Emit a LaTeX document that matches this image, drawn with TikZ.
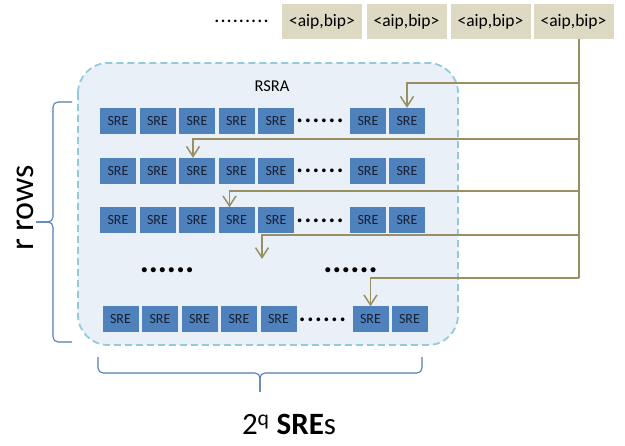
\documentclass[tikz,border=0pt]{standalone}
\usepackage{fontspec}
\setmainfont{Carlito}
\usepackage{tikz}
\usetikzlibrary{arrows.meta, positioning, calc}
\definecolor{srefill}{RGB}{79,129,189}
\definecolor{sretext}{RGB}{22,32,52}
\definecolor{pairtan}{RGB}{221,217,195}
\definecolor{wireolive}{RGB}{153,143,98}
\definecolor{rsrabg}{RGB}{234,240,247}
\definecolor{rsraedge}{RGB}{146,203,220}
\definecolor{bracesteel}{RGB}{84,125,180}
\newcommand{\dotrun}[2]{\foreach \k in {1,...,#1}{\ifnum\k>1\kern#2\fi.}}
\tikzset{
  sre/.style={fill=srefill, minimum width=36pt, minimum height=26pt, inner sep=0pt,
    font=\fontsize{14}{16}\selectfont, text=sretext},
  pair/.style={fill=pairtan, minimum width=80pt, minimum height=35pt, inner sep=0pt,
    font=\fontsize{17.5}{20}\selectfont},
  rowdots/.style={font=\bfseries\fontsize{25}{27}\selectfont, inner sep=0pt},
  gapdots/.style={font=\bfseries\fontsize{34}{36}\selectfont, inner sep=0pt},
  wire/.style={draw=wireolive, line width=1.5pt},
  feed/.style={wire, -{Straight Barb[length=10pt, width=13pt]}},
  curly/.style={draw=bracesteel, line width=1.1pt, rounded corners=5pt}
}

\begin{document}
\begin{tikzpicture}[x=1pt, y=-1pt]
    \useasboundingbox (0,0) rectangle (625,446);
    % RSRA frame
    \draw[fill=rsrabg, draw=rsraedge, line width=1.8pt, dash pattern=on 7pt off 4pt, rounded corners=30pt] (78,63) rectangle (458,345);
    \node[font=\fontsize{16.5}{18}\selectfont] (rsra) at (272,86) {RSRA};

    % input pairs
    \foreach \i/\x in {1/322,2/406.5,3/490.5,4/573.5}
        \node[pair] (aip\i) at (\x,21.5) {<aip,bip>};
    \node[font=\bfseries\fontsize{17}{18}\selectfont, inner sep=0pt] (pairdots) at (241.5,21) {\dotrun{9}{1.6pt}};

    % SRE rows
    \foreach \r/\y in {1/121,2/171,3/220.5}{
        \foreach \c/\x in {1/118,2/157.5,3/197,4/236.5,5/276,6/368,7/407}
            \node[sre] (s-\r-\c) at (\x,\y) {SRE};
        \node[rowdots] (d-\r) at (320,\y) {\dotrun{6}{1.4pt}};
    }
    \foreach \c/\x in {1/118,2/157.5,3/197,4/236.5,5/276,6/368,7/407}
        \node[sre] (s-4-\c) at (\x+2.5,319.5) {SRE};
    \node[rowdots] (d-4) at (322.5,319.5) {\dotrun{6}{1.4pt}};
    \node[gapdots] (gapl) at (167,270) {\dotrun{6}{0pt}};
    \node[gapdots] (gapr) at (350.5,270) {\dotrun{6}{0pt}};

    % feed lines
    \coordinate (tk) at (579,0);
    \coordinate (b1) at (579,83);
    \coordinate (b2) at (579,139);
    \coordinate (b3) at (579,191);
    \coordinate (b4) at (579,235);
    \coordinate (b5) at (579,278);
    \coordinate (drop) at (262,259);
    \draw[wire] (aip4.south -| tk) -- (b5);
    \draw[feed] (b1) -| (s-1-7.north);
    \draw[feed] (b2) -| ([xshift=-4pt]s-2-3.north);
    \draw[feed] (b3) -| ([xshift=-7pt]s-3-4.north);
    \draw[feed] (b4) -| (drop);
    \draw[feed] (b5) -| (s-4-6.north);

    % braces
    \draw[curly] (72,102) -- (53,102) -- (53,222) -- (36,222);
    \draw[curly] (72,342) -- (53,342) -- (53,222) -- (36,222);
    \draw[curly] (98,357) -- (98,373) -- (260,373) -- (260,392);
    \draw[curly] (422,357) -- (422,373) -- (260,373) -- (260,392);

    \node[rotate=90, font=\fontsize{34}{36}\selectfont] (rows) at (25.5,208) {r rows};
    \node[font=\fontsize{31}{34}\selectfont, anchor=base] (count) at (289,435) {2\textsuperscript{q} \textbf{SRE}s};
\end{tikzpicture}
\end{document}
